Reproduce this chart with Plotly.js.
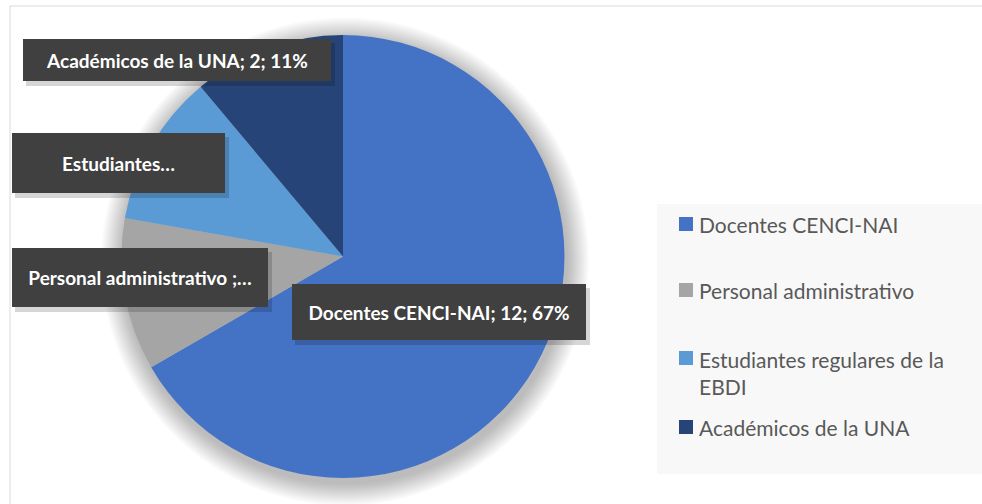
<!DOCTYPE html>
<html>
<head>
<meta charset="utf-8">
<script src="https://cdn.plot.ly/plotly-3.0.1.min.js"></script>
<style>html,body{margin:0;padding:0;background:#fff;}#chart{width:982px;height:504px;}</style>
</head>
<body>
<div id="chart"></div>
<script>
// ---- data ----
var labels = ["Docentes CENCI-NAI", "Personal administrativo ", "Estudiantes regulares de la EBDI", "Académicos de la UNA"];
var values = [12, 2, 2, 2];
var colors = ["#4472C4", "#A5A5A5", "#5B9BD5", "#264478"];
var calloutCut = [null, 25, 11, null]; // truncated callouts, as shown in the picture

// ---- layout helpers ----
var W = 982, H = 504;
function px(x) { return x / W; }
function py(y) { return 1 - y / H; }

var total = values.reduce(function (a, b) { return a + b; }, 0);

// callout boxes (left, top, right, bottom in pixels)
var boxes = [
  [292, 284, 586, 340],
  [12, 248, 268, 307],
  [12, 133, 225, 193],
  [23, 39, 331, 81]
];

var annotations = [];
var shapes = [];

var cx = 343, cy = 256.5, r = 221.5;

// chart border (top and left visible)
shapes.push({type: "line", xref: "paper", yref: "paper", x0: px(10), x1: 1, y0: py(6), y1: py(6), line: {color: "#D9D9D9", width: 1}});
shapes.push({type: "line", xref: "paper", yref: "paper", x0: px(10), x1: px(10), y0: py(6), y1: 0, line: {color: "#D9D9D9", width: 1}});

// soft shadow behind the pie
for (var k = 14; k >= 1; k--) {
  var rr = r + k * 1.6;
  var oy = 5;
  shapes.push({type: "circle", xref: "paper", yref: "paper", layer: "below",
    x0: px(cx - rr + 2), x1: px(cx + rr + 2), y0: py(cy + oy + rr), y1: py(cy + oy - rr),
    fillcolor: "rgba(0,0,0,0.018)", line: {width: 0}});
}

// legend background
shapes.push({type: "rect", xref: "paper", yref: "paper", x0: px(657), x1: 1, y0: py(474), y1: py(204), fillcolor: "#F8F8F8", line: {width: 0}, layer: "below"});

labels.forEach(function (lab, i) {
  var pct = Math.round(values[i] / total * 100);
  var full = lab + "; " + values[i] + "; " + pct + "%";
  var shown = calloutCut[i] ? full.slice(0, calloutCut[i]) + "…" : full;
  var b = boxes[i];
  // shadow
  shapes.push({type: "rect", xref: "paper", yref: "paper", x0: px(b[0] + 3), x1: px(b[2] + 4), y0: py(b[3] + 5), y1: py(b[1] + 4), fillcolor: "rgba(0,0,0,0.16)", line: {width: 0}});
  annotations.push({
    xref: "paper", yref: "paper",
    x: px((b[0] + b[2]) / 2), y: py((b[1] + b[3]) / 2),
    xanchor: "center", yanchor: "middle",
    width: b[2] - b[0], height: b[3] - b[1],
    borderpad: 0, borderwidth: 0,
    bgcolor: "#404040",
    text: "<b>" + shown + "</b>",
    showarrow: false,
    font: {family: "Lato, 'Open Sans', sans-serif", size: 19, color: "#FFFFFF"}
  });
});

// manual legend
var legendY = [224, 290, 373, 427];
function wrap(s, n) {
  s = s.trim();
  if (s.length <= n) return s;
  var cut = s.lastIndexOf(" ", n);
  return s.slice(0, cut) + "<br>" + s.slice(cut + 1);
}
labels.forEach(function (lab, i) {
  var yc = legendY[i];
  var sqY = (i === 2) ? 358 : yc;
  shapes.push({type: "rect", xref: "paper", yref: "paper", x0: px(679), x1: px(693), y0: py(sqY + 7), y1: py(sqY - 7), fillcolor: colors[i], line: {width: 0}});
  annotations.push({
    xref: "paper", yref: "paper", x: px(697), y: py(yc),
    xanchor: "left", yanchor: "middle", align: "left",
    text: wrap(lab, 27), showarrow: false,
    font: {family: "Lato, 'Open Sans', sans-serif", size: 21, color: "#595959"}
  });
});

var trace = {
  type: "pie",
  labels: labels.map(function (s) { return s.trim(); }),
  values: values,
  marker: {colors: colors, line: {width: 0}},
  sort: false,
  direction: "clockwise",
  rotation: 0,
  textinfo: "none",
  showlegend: false,
  domain: {x: [px(cx - r), px(cx + r)], y: [py(cy + r), py(cy - r)]}
};

var layout = {
  width: W, height: H,
  margin: {l: 0, r: 0, t: 0, b: 0},
  paper_bgcolor: "#FFFFFF",
  showlegend: false,
  shapes: shapes,
  annotations: annotations,
  font: {family: "Lato, sans-serif"}
};

Plotly.newPlot("chart", [trace], layout, {staticPlot: true, displayModeBar: false});
</script>
</body>
</html>
